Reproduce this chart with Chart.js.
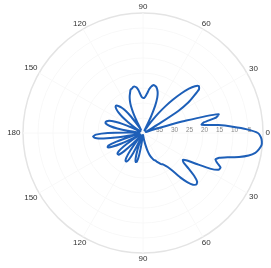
<!DOCTYPE html>
<html>
<head>
<meta charset="utf-8">
<script src="https://cdn.jsdelivr.net/npm/chart.js@4"></script>
<style>
  html, body { margin: 0; padding: 0; background: #fff; }
  canvas { display: block; }
</style>
</head>
<body>
<canvas id="polar" width="271" height="268"></canvas>
<script>
// gain in dB, one value every 2 degrees, counterclockwise from 0 deg
const gainDb = [
  -1.7, -5.3, -10, -14.7, -20.3, -19.3, -15, -14, -25, -36,
  -39, -39, -38.7, -38, -36.7, -33.3, -26, -21.7, -19, -16.3,
  -15.7, -16.7, -18.7, -21.7, -25, -28.3, -31.7, -35, -37.7, -39,
  -39, -38, -34, -30, -27.3, -25.7, -24.7, -24, -23.7, -23.7,
  -24.3, -25.3, -26.7, -27.7, -28.3, -28.3, -28, -27, -25.7, -24.7,
  -24.3, -24.3, -24.7, -25, -26, -27, -28.3, -30, -32.7, -36,
  -38.3, -38.7, -36.7, -33.3, -30.7, -29, -28, -27.3, -27.3, -28,
  -29.3, -31.3, -34, -36.7, -38.7, -39, -38.3, -36, -32.7, -30,
  -28, -27.3, -27, -27.3, -28.7, -31.3, -35.3, -38.3, -38.7, -35.3,
  -28.3, -24.3, -23.3, -24, -26.7, -31.7, -36.7, -38.7, -36, -30.7,
  -27.7, -27.3, -28.7, -32, -36.7, -39, -37.3, -33.3, -30.7, -29.3,
  -29, -29.3, -31.3, -35, -38.3, -39, -36.7, -32.7, -30, -29,
  -29, -30, -32.7, -36.7, -39, -38, -34, -31, -30, -30.3,
  -32.3, -36, -38.7, -39.3, -39.3, -39.3, -39.3, -39, -38.7, -38,
  -37, -35.7, -34, -32.7, -31.7, -31, -30.3, -30, -29.3, -28.7,
  -28, -27.7, -27, -26, -24, -20.7, -18, -16, -15.3, -15.7,
  -17.7, -20.7, -23.3, -24, -22.7, -19.3, -14.7, -12, -11.7, -13.3,
  -14.3, -13.3, -10.7, -7, -4, -2, -1, -0.3, -0.3, -0.7
];
const angleDeg = gainDb.map((_, i) => i * 2);

// radial axis
const rMin = -40;
const rMax = 0;
const rTickValues = [-35, -30, -25, -20, -15, -10, -5];
const rTickLabels = ['35', '30', '25', '20', '15', '10', '5'];

// angular axis
const thetaTicks = [0, 30, 60, 90, 120, 150, 180, 210, 240, 270, 300, 330];
const thetaTickLabels = ['0', '30', '60', '90', '120', '150', '180', '150', '120', '90', '60', '30'];

// chart.js radar runs clockwise, so walk the angles backwards
const order = angleDeg.map((_, i) => (angleDeg.length - i) % angleDeg.length);
const labels = order.map(k => angleDeg[k]);
const valores = order.map(k => gainDb[k]);
const indiceDoAngulo = a => order.findIndex(k => angleDeg[k] === a);

const fonte = "'Liberation Sans', Arial, sans-serif";

// tick labels lie flat along the 0 deg ray
const rotulosRaio = {
  id: 'rotulosRaio',
  beforeDatasetsDraw(chart) {
    const escala = chart.scales.r;
    const c = chart.ctx;
    c.save();
    c.font = '6.5px ' + fonte;
    c.fillStyle = '#8a8a8a';
    c.textAlign = 'center';
    c.textBaseline = 'middle';
    rTickValues.forEach((v, i) => {
      const p = escala.getPointPositionForValue(0, v);
      c.fillText(rTickLabels[i], p.x + 1.5, p.y - 2.5);
    });
    c.restore();
  }
};

// angle labels just outside the outer ring
const rotulosAngulo = {
  id: 'rotulosAngulo',
  afterDraw(chart) {
    const escala = chart.scales.r;
    const c = chart.ctx;
    c.save();
    c.font = '8px ' + fonte;
    c.fillStyle = '#333';
    c.textAlign = 'center';
    c.textBaseline = 'middle';
    thetaTicks.forEach((a, i) => {
      const txt = thetaTickLabels[i];
      const meiaLarg = c.measureText(txt).width / 2;
      const meiaAlt = 3.5;
      const rad = a * Math.PI / 180;
      const cs = Math.abs(Math.cos(rad));
      const sn = Math.abs(Math.sin(rad));
      const borda = Math.min(cs > 0.01 ? meiaLarg / cs : 1e9, sn > 0.01 ? meiaAlt / sn : 1e9);
      const p = escala.getPointPosition(indiceDoAngulo(a), escala.drawingArea + 2.5 + borda);
      c.fillText(txt, p.x, p.y);
    });
    c.restore();
  }
};

new Chart(document.getElementById('polar'), {
  type: 'radar',
  data: {
    labels: labels,
    datasets: [{
      data: valores,
      borderColor: '#1d5fb8',
      borderWidth: 2,
      fill: false,
      tension: 0.15,
      pointRadius: 0
    }]
  },
  options: {
    responsive: false,
    animation: false,
    layout: { padding: { left: 23, right: 8, top: 13, bottom: 15 } },
    plugins: { legend: { display: false }, tooltip: { enabled: false } },
    scales: {
      r: {
        min: rMin,
        max: rMax,
        startAngle: 90,
        ticks: { display: false, stepSize: 5 },
        grid: {
          circular: true,
          color: ctx => ctx.tick && ctx.tick.value === rMax ? '#e4e4e4' : '#f8f8f8',
          lineWidth: ctx => ctx.tick && ctx.tick.value === rMax ? 1.5 : 1
        },
        angleLines: {
          display: true,
          color: ctx => ctx.index % 15 === 0 ? '#f8f8f8' : 'rgba(0,0,0,0)'
        },
        pointLabels: { display: false }
      }
    }
  },
  plugins: [rotulosRaio, rotulosAngulo]
});
</script>
</body>
</html>
